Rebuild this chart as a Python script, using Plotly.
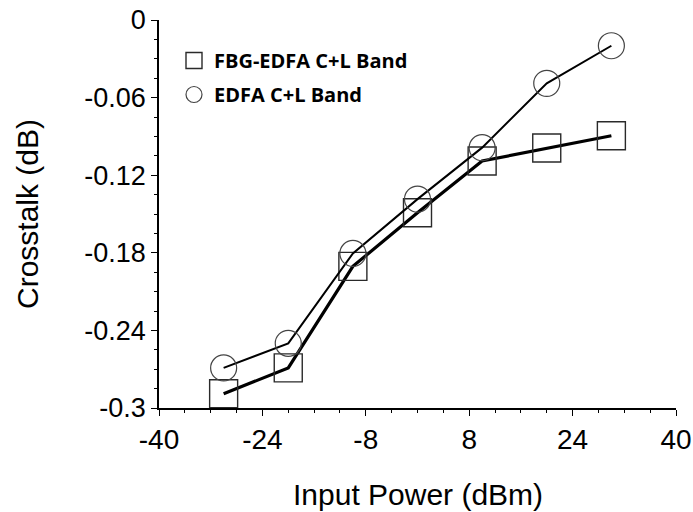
import plotly.graph_objects as go

# ---- data ----
input_power = [-30, -20, -10, 0, 10, 20, 30]
fbg_edfa = [-0.289, -0.269, -0.1905, -0.149, -0.109, -0.099, -0.0895]
edfa = [-0.269, -0.250, -0.1805, -0.1385, -0.0987, -0.049, -0.0199]

x_tickvals = [-40, -24, -8, 8, 24, 40]
x_ticktext = ["-40", "-24", "-8", "8", "24", "40"]
y_tickvals = [0, -0.06, -0.12, -0.18, -0.24, -0.3]
y_ticktext = ["0", "-0.06", "-0.12", "-0.18", "-0.24", "-0.3"]

series_names = ["FBG-EDFA C+L Band", "EDFA C+L Band"]

fig = go.Figure()

# data traces (no legend entry; legend uses marker-only entries)
fig.add_trace(go.Scatter(
    x=input_power, y=fbg_edfa, mode="lines+markers", showlegend=False,
    line=dict(color="#000000", width=3.2),
    marker=dict(symbol="square-open", size=28, color="#2a2a2a", line=dict(width=1.4)),
    cliponaxis=False,
))
fig.add_trace(go.Scatter(
    x=input_power, y=edfa, mode="lines+markers", showlegend=False,
    line=dict(color="#000000", width=2),
    marker=dict(symbol="circle-open", size=26, color="#444444", line=dict(width=1.2)),
    cliponaxis=False,
))

# legend entries
fig.add_trace(go.Scatter(
    x=[None], y=[None], mode="markers", name=series_names[0], legendgroup="a",
    marker=dict(symbol="square-open", size=22, color="#2a2a2a", line=dict(width=1.4)),
))
fig.add_trace(go.Scatter(
    x=[None], y=[None], mode="markers", name=series_names[1], legendgroup="b",
    marker=dict(symbol="circle-open", size=19, color="#444444", line=dict(width=1.2)),
))

axis_font = dict(family="Liberation Sans, Arial, sans-serif", color="#000000")

fig.update_layout(
    template="none",
    width=693, height=512, autosize=False,
    margin=dict(l=159, r=17, t=20, b=104, pad=0, autoexpand=False),
    paper_bgcolor="white", plot_bgcolor="white",
    showlegend=True,
    legend=dict(
        x=(174 - 159) / 517, y=(408 - 41) / 388, xanchor="left", yanchor="top",
        bgcolor="rgba(0,0,0,0)", borderwidth=0,
        font=dict(family="Open Sans, sans-serif", size=20, color="#000000", weight="bold"),
        traceorder="grouped", tracegroupgap=5, itemwidth=30,
    ),
    xaxis=dict(
        range=[-40, 40], tickmode="array", tickvals=x_tickvals, ticktext=x_ticktext,
        automargin=False,
        showgrid=False, zeroline=False, showline=True, linecolor="#000000", linewidth=1.5,
        ticks="outside", ticklen=6, tickwidth=1.3, tickcolor="#000000",
        tickfont=dict(size=28, **axis_font),
        minor=dict(dtick=4, ticks="outside", ticklen=3, tickwidth=1, tickcolor="#000000", showgrid=False),
    ),
    yaxis=dict(
        range=[-0.3, 0], tickmode="array", tickvals=y_tickvals, ticktext=y_ticktext,
        automargin=False,
        showgrid=False, zeroline=False, showline=True, linecolor="#000000", linewidth=1.5,
        ticks="outside", ticklen=6, tickwidth=1.3, tickcolor="#000000",
        tickfont=dict(size=27, **axis_font),
        minor=dict(dtick=0.015, ticks="outside", ticklen=3, tickwidth=1, tickcolor="#000000", showgrid=False),
    ),
    annotations=[
        dict(text="Input Power (dBm)", xref="paper", yref="paper",
             x=0.5, y=(408 - 494) / 388, xanchor="center", yanchor="middle",
             showarrow=False, font=dict(size=30, **axis_font)),
        dict(text="Crosstalk (dB)", xref="paper", yref="paper",
             x=(27 - 159) / 517, y=0.5, xanchor="center", yanchor="middle",
             textangle=-90, showarrow=False, font=dict(size=30, **axis_font)),
    ],
)

fig.write_html(
    "out.html",
    config={"responsive": False, "displayModeBar": False},
    post_script="document.body.style.margin='0';document.body.style.padding='0';"
                "document.body.style.overflow='hidden';"
                "document.documentElement.style.overflow='hidden';",
)
